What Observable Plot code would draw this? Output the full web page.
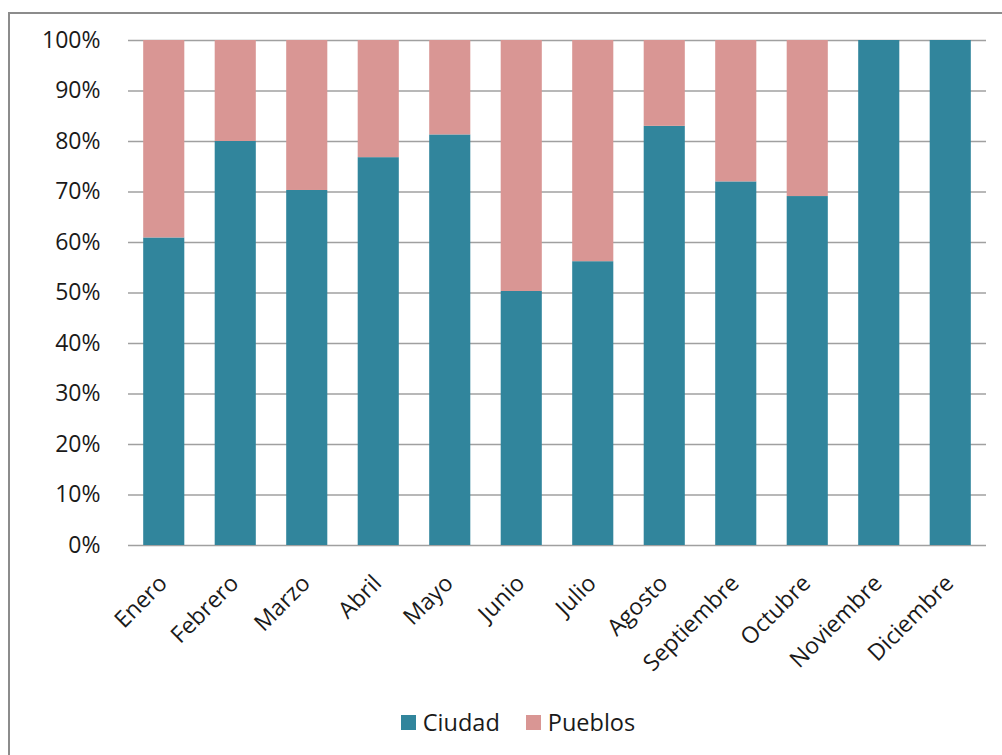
<!DOCTYPE html>
<html>
<head>
<meta charset="utf-8">
<script src="https://cdn.jsdelivr.net/npm/d3@7"></script>
<script src="https://cdn.jsdelivr.net/npm/@observablehq/plot@0.6"></script>
<style>
  html, body { margin: 0; padding: 0; background: #fff; width: 1002px; height: 755px; overflow: hidden; }
  #frame {
    position: absolute; left: 8px; top: 12px; width: 1100px; height: 800px;
    border-left: 2px solid #8c8c8c; border-top: 2px solid #8c8c8c; box-sizing: border-box;
  }
  #chart { position: absolute; left: 0; top: 0; }
  #legend {
    position: absolute; top: 706px; left: 17px; width: 1002px;
    display: flex; justify-content: center; gap: 26px;
    font-family: "Open Sans", sans-serif; font-size: 23.5px; color: #1a1a1a;
  }
  .item { display: flex; align-items: center; gap: 7px; }
  .sw { width: 15px; height: 15px; display: inline-block; }
</style>
</head>
<body>
<div id="frame"></div>
<div id="chart"></div>
<div id="legend"></div>
<script>
// Monthly share (%) of Ciudad; Pueblos is the remainder to 100%
const months = ["Enero", "Febrero", "Marzo", "Abril", "Mayo", "Junio", "Julio",
                "Agosto", "Septiembre", "Octubre", "Noviembre", "Diciembre"];
const ciudad = [60.9, 80.0, 70.3, 76.8, 81.3, 50.3, 56.2, 83.0, 72.0, 69.1, 100, 100];
const pueblos = ciudad.map(v => 100 - v);
const seriesNames = ["Ciudad", "Pueblos"];
const seriesColors = ["#31859c", "#d99694"];
const yTicks = [0, 10, 20, 30, 40, 50, 60, 70, 80, 90, 100];

const rows = [];
months.forEach((m, i) => {
  rows.push({month: m, series: "Ciudad", value: ciudad[i]});
  rows.push({month: m, series: "Pueblos", value: pueblos[i]});
});

const chart = Plot.plot({
  width: 1002,
  height: 690,
  marginLeft: 128,
  marginRight: 16,
  marginTop: 40,
  marginBottom: 145,
  style: {fontFamily: "Open Sans, sans-serif", fontSize: "23px", color: "#1a1a1a", background: "transparent"},
  x: {domain: months, paddingInner: 0.425, paddingOuter: 0.2125, round: false, axis: null},
  y: {domain: [0, 100], axis: null},
  color: {domain: seriesNames, range: seriesColors},
  marks: [
    Plot.ruleY(yTicks, {stroke: "#a0a0a0", strokeWidth: 1.5}),
    Plot.barY(rows, Plot.stackY({x: "month", y: "value", fill: "series", order: seriesNames})),
    Plot.text(yTicks, {
      y: d => d, frameAnchor: "left", dx: -28, textAnchor: "end",
      text: d => d + "%", fill: "#1a1a1a", fontSize: 23
    }),
    Plot.text(months, {
      x: d => d, frameAnchor: "bottom", dx: -1, dy: 34, rotate: -45,
      textAnchor: "end", lineAnchor: "middle", text: d => d, fill: "#1a1a1a", fontSize: 23
    })
  ]
});
document.getElementById("chart").appendChild(chart);

const legend = document.getElementById("legend");
seriesNames.forEach((name, i) => {
  const item = document.createElement("div");
  item.className = "item";
  const sw = document.createElement("span");
  sw.className = "sw";
  sw.style.background = seriesColors[i];
  const label = document.createElement("span");
  label.textContent = name;
  item.appendChild(sw);
  item.appendChild(label);
  legend.appendChild(item);
});
</script>
</body>
</html>
